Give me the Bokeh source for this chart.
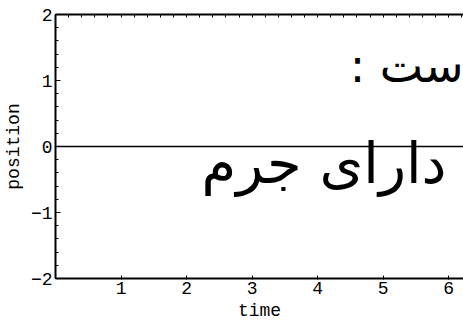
from bokeh.plotting import figure
from bokeh.models import Range1d, FixedTicker, LinearAxis, Label
from bokeh.embed import file_html
from bokeh.resources import INLINE

# data
time = [0.0, 6.3]
position = [0.0, 0.0]
x_ticks = [1, 2, 3, 4, 5, 6]
y_ticks = [-2, -1, 0, 1, 2]
y_minor = [round(-2 + 0.2 * i, 1) for i in range(21)]
top_ticks = [round(0.2 * i, 1) for i in range(1, 32)]
overlay_texts = [": ست", "دارای جرم"]

p = figure(width=463, height=323, output_backend="svg", toolbar_location=None,
           x_range=Range1d(0, 6.225), y_range=Range1d(-2, 2),
           min_border_left=55, min_border_top=14, min_border_right=0, min_border_bottom=44)
p.outline_line_color = None
p.grid.visible = False
p.background_fill_color = "white"
p.border_fill_color = "white"

p.line(time, position, line_color="black", line_width=1.5)

mono = "Liberation Mono"
fs = "18px"

xa = p.xaxis[0]
xa.ticker = FixedTicker(ticks=x_ticks)
xa.major_tick_in = 3
xa.major_tick_out = 1
xa.minor_tick_in = 0
xa.minor_tick_out = 0
xa.axis_line_width = 2
xa.axis_line_color = "black"
xa.major_tick_line_color = "black"
xa.major_label_text_font = mono
xa.major_label_text_font_size = fs
xa.major_label_text_color = "black"
xa.major_label_text_line_height = 0.9
xa.major_label_standoff = 2
xa.axis_label = "time"
xa.axis_label_text_font = mono
xa.axis_label_text_font_size = fs
xa.axis_label_text_font_style = "normal"
xa.axis_label_text_color = "black"
xa.axis_label_text_line_height = 0.9
xa.axis_label_standoff = 4

ya = p.yaxis[0]
ya.ticker = FixedTicker(ticks=y_ticks, minor_ticks=y_minor)
ya.major_tick_in = 5
ya.major_tick_out = 0
ya.minor_tick_in = 3
ya.minor_tick_out = 0
ya.axis_line_width = 2
ya.axis_line_color = "black"
ya.major_tick_line_color = "black"
ya.minor_tick_line_color = "black"
ya.major_label_text_font = mono
ya.major_label_text_font_size = fs
ya.major_label_text_color = "black"
ya.major_label_standoff = 3
ya.axis_label = "position"
ya.axis_label_text_font = mono
ya.axis_label_text_font_size = fs
ya.axis_label_text_font_style = "normal"
ya.axis_label_text_color = "black"
ya.axis_label_standoff = 4

top = LinearAxis(ticker=FixedTicker(ticks=top_ticks))
top.major_tick_in = 3
top.major_tick_out = 0
top.minor_tick_in = 0
top.minor_tick_out = 0
top.axis_line_width = 2
top.axis_line_color = "black"
top.major_tick_line_color = "black"
top.major_label_overrides = {t: "" for t in top_ticks}
top.major_label_standoff = 0
p.add_layout(top, "above")

p.add_layout(Label(x=6.225, y=1.22, text=overlay_texts[0], text_font="DejaVu Sans",
                   text_font_size="46px", text_color="black",
                   text_align="right", text_baseline="alphabetic"))
p.add_layout(Label(x=5.965, y=-0.26, text=overlay_texts[1], text_font="DejaVu Sans",
                   text_font_size="56px", text_color="black",
                   text_align="right", text_baseline="alphabetic"))

open("out.html", "w").write(file_html(p, INLINE))
